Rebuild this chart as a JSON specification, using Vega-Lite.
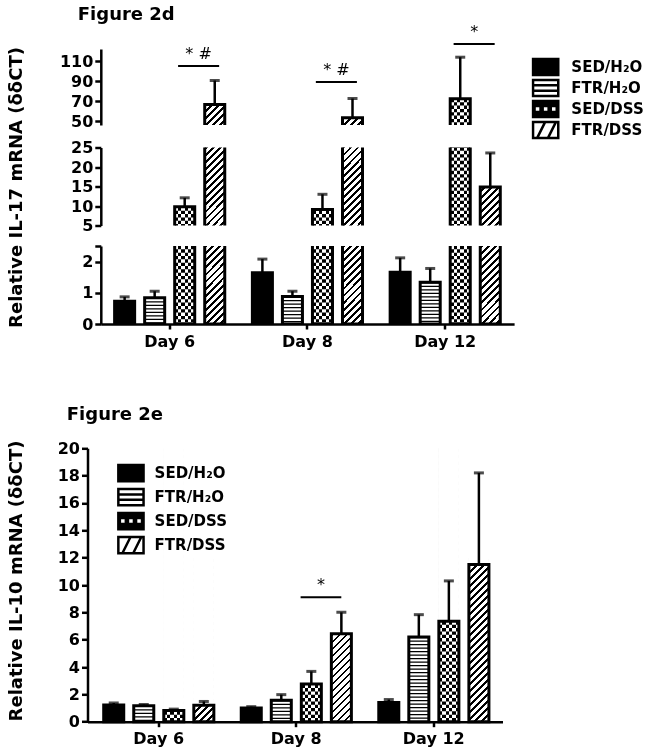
{
"$schema":"https://vega.github.io/schema/vega-lite/v6.json",
"background":"white",
"padding":{"left":6.5,"top":5,"right":5,"bottom":5},
"datasets":{
"il17":[
{"day":"Day 6","group":"SED/H₂O","mean":0.73,"upper":0.87},
{"day":"Day 6","group":"FTR/H₂O","mean":0.84,"upper":1.05},
{"day":"Day 6","group":"SED/DSS","mean":9.8,"upper":12.1},
{"day":"Day 6","group":"FTR/DSS","mean":66.5,"upper":90.5},
{"day":"Day 8","group":"SED/H₂O","mean":1.64,"upper":2.08},
{"day":"Day 8","group":"FTR/H₂O","mean":0.88,"upper":1.05},
{"day":"Day 8","group":"SED/DSS","mean":9.1,"upper":13.0},
{"day":"Day 8","group":"FTR/DSS","mean":53.2,"upper":72.5},
{"day":"Day 12","group":"SED/H₂O","mean":1.66,"upper":2.12},
{"day":"Day 12","group":"FTR/H₂O","mean":1.34,"upper":1.78},
{"day":"Day 12","group":"SED/DSS","mean":72.2,"upper":113.8},
{"day":"Day 12","group":"FTR/DSS","mean":14.9,"upper":23.6}
],
"il10":[
{"day":"Day 6","group":"SED/H₂O","mean":1.22,"upper":1.37},
{"day":"Day 6","group":"FTR/H₂O","mean":1.16,"upper":1.26},
{"day":"Day 6","group":"SED/DSS","mean":0.82,"upper":0.92},
{"day":"Day 6","group":"FTR/DSS","mean":1.2,"upper":1.48},
{"day":"Day 8","group":"SED/H₂O","mean":1.0,"upper":1.1},
{"day":"Day 8","group":"FTR/H₂O","mean":1.56,"upper":1.98},
{"day":"Day 8","group":"SED/DSS","mean":2.75,"upper":3.68},
{"day":"Day 8","group":"FTR/DSS","mean":6.44,"upper":8.0},
{"day":"Day 12","group":"SED/H₂O","mean":1.4,"upper":1.62},
{"day":"Day 12","group":"FTR/H₂O","mean":6.2,"upper":7.83},
{"day":"Day 12","group":"SED/DSS","mean":7.34,"upper":10.3},
{"day":"Day 12","group":"FTR/DSS","mean":11.5,"upper":18.2}
],
"sig17":[
{"day":"Day 6","level":105,"mark":"*  #"},
{"day":"Day 8","level":89,"mark":"*  #"},
{"day":"Day 12","level":127,"mark":"*"}
],
"sig10":[
{"day":"Day 8","level":9.1,"mark":"*"}
]
},
"resolve":{"scale":{"shape":"independent","fill":"independent"},"legend":{"shape":"independent","fill":"independent"}},
"concat":[
{
"title":{"text":"Figure 2d","dx":-9.7,"offset":0},
"columns":1,"align":"all","bounds":"flush","spacing":20.5,
"resolve":{"scale":{"shape":"independent","fill":"independent"},"legend":{"shape":"independent","fill":"independent"}},
"concat":[
{
"width":426.6,"height":76,
"layer":[
{"data":{"name":"il17"},"transform":[{"filter":"datum.group === 'SED/DSS' && datum.mean > 46"}],
"mark":{"type":"rule","stroke":"black","strokeWidth":20,"strokeDash":[3.33,3.33]},
"encoding":{
"x":{"field":"day","type":"nominal","sort":["Day 6","Day 8","Day 12"],"scale":{"paddingInner":0,"paddingOuter":0,"range":[13.3,426.6]},"axis":null},
"xOffset":{"field":"group","type":"nominal","sort":["SED/H₂O","FTR/H₂O","SED/DSS","FTR/DSS"],"scale":{"paddingInner":0.3333,"paddingOuter":0.46}},
"y":{"datum":122,"type":"quantitative","scale":{"domain":[46,122],"nice":false,"zero":false},"axis":{"values":[50,70,90,110],"title":null,"offset":-13.3,"labelOverlap":false}},
"y2":{"datum":46}}},
{"data":{"name":"il17"},"transform":[{"filter":"datum.group === 'SED/DSS' && datum.mean > 46"}],
"mark":{"type":"bar","strokeWidth":0,"blend":"difference","fill":{"gradient":"linear","x1":0,"y1":0,"x2":1,"y2":0,"stops":[{"offset":0,"color":"#fff"},{"offset":0.1667,"color":"#fff"},{"offset":0.1667,"color":"#000"},{"offset":0.3333,"color":"#000"},{"offset":0.3333,"color":"#fff"},{"offset":0.5,"color":"#fff"},{"offset":0.5,"color":"#000"},{"offset":0.6667,"color":"#000"},{"offset":0.6667,"color":"#fff"},{"offset":0.8333,"color":"#fff"},{"offset":0.8333,"color":"#000"},{"offset":1,"color":"#000"}]}},
"encoding":{
"x":{"field":"day","type":"nominal","sort":["Day 6","Day 8","Day 12"],"scale":{"paddingInner":0,"paddingOuter":0,"range":[13.3,426.6]},"axis":null},
"xOffset":{"field":"group","type":"nominal","sort":["SED/H₂O","FTR/H₂O","SED/DSS","FTR/DSS"],"scale":{"paddingInner":0.3333,"paddingOuter":0.46}},
"y":{"datum":122,"type":"quantitative","scale":{"domain":[46,122],"nice":false,"zero":false},"axis":{"values":[50,70,90,110],"title":null,"offset":-13.3,"labelOverlap":false}},
"y2":{"datum":46}}},
{"data":{"name":"il17"},"transform":[{"filter":"datum.group === 'FTR/DSS' && datum.mean > 46"}],
"mark":{"type":"bar","strokeWidth":0,"fill":{"gradient":"linear","x1":0,"y1":0,"x2":0.3097,"y2":1.1923,"stops":[{"offset":0,"color":"#000"},{"offset":0.0286,"color":"#000"},{"offset":0.0286,"color":"#fff"},{"offset":0.0714,"color":"#fff"},{"offset":0.0714,"color":"#000"},{"offset":0.1,"color":"#000"},{"offset":0.1,"color":"#fff"},{"offset":0.1429,"color":"#fff"},{"offset":0.1429,"color":"#000"},{"offset":0.1714,"color":"#000"},{"offset":0.1714,"color":"#fff"},{"offset":0.2143,"color":"#fff"},{"offset":0.2143,"color":"#000"},{"offset":0.2429,"color":"#000"},{"offset":0.2429,"color":"#fff"},{"offset":0.2857,"color":"#fff"},{"offset":0.2857,"color":"#000"},{"offset":0.3143,"color":"#000"},{"offset":0.3143,"color":"#fff"},{"offset":0.3571,"color":"#fff"},{"offset":0.3571,"color":"#000"},{"offset":0.3857,"color":"#000"},{"offset":0.3857,"color":"#fff"},{"offset":0.4286,"color":"#fff"},{"offset":0.4286,"color":"#000"},{"offset":0.4571,"color":"#000"},{"offset":0.4571,"color":"#fff"},{"offset":0.5,"color":"#fff"},{"offset":0.5,"color":"#000"},{"offset":0.5286,"color":"#000"},{"offset":0.5286,"color":"#fff"},{"offset":0.5714,"color":"#fff"},{"offset":0.5714,"color":"#000"},{"offset":0.6,"color":"#000"},{"offset":0.6,"color":"#fff"},{"offset":0.6429,"color":"#fff"},{"offset":0.6429,"color":"#000"},{"offset":0.6714,"color":"#000"},{"offset":0.6714,"color":"#fff"},{"offset":0.7143,"color":"#fff"},{"offset":0.7143,"color":"#000"},{"offset":0.7429,"color":"#000"},{"offset":0.7429,"color":"#fff"},{"offset":0.7857,"color":"#fff"},{"offset":0.7857,"color":"#000"},{"offset":0.8143,"color":"#000"},{"offset":0.8143,"color":"#fff"},{"offset":0.8571,"color":"#fff"},{"offset":0.8571,"color":"#000"},{"offset":0.8857,"color":"#000"},{"offset":0.8857,"color":"#fff"},{"offset":0.9286,"color":"#fff"},{"offset":0.9286,"color":"#000"},{"offset":0.9571,"color":"#000"},{"offset":0.9571,"color":"#fff"},{"offset":1,"color":"#fff"}]}},
"encoding":{
"x":{"field":"day","type":"nominal","sort":["Day 6","Day 8","Day 12"],"scale":{"paddingInner":0,"paddingOuter":0,"range":[13.3,426.6]},"axis":null},
"xOffset":{"field":"group","type":"nominal","sort":["SED/H₂O","FTR/H₂O","SED/DSS","FTR/DSS"],"scale":{"paddingInner":0.3333,"paddingOuter":0.46}},
"y":{"datum":122,"type":"quantitative","scale":{"domain":[46,122],"nice":false,"zero":false},"axis":{"values":[50,70,90,110],"title":null,"offset":-13.3,"labelOverlap":false}},
"y2":{"datum":46}}},
{"data":{"name":"il17"},"transform":[{"filter":"(datum.group === 'SED/DSS' || datum.group === 'FTR/DSS') && datum.mean > 46 && datum.mean < 122"}],
"mark":{"type":"bar","fill":"white","stroke":"white","strokeWidth":1.5},
"encoding":{
"x":{"field":"day","type":"nominal","sort":["Day 6","Day 8","Day 12"],"scale":{"paddingInner":0,"paddingOuter":0,"range":[13.3,426.6]},"axis":null},
"xOffset":{"field":"group","type":"nominal","sort":["SED/H₂O","FTR/H₂O","SED/DSS","FTR/DSS"],"scale":{"paddingInner":0.3333,"paddingOuter":0.46}},
"y":{"field":"mean","type":"quantitative","scale":{"domain":[46,122],"nice":false,"zero":false},"axis":{"values":[50,70,90,110],"title":null,"offset":-13.3,"labelOverlap":false}},
"y2":{"datum":122}}},
{"data":{"name":"il17"},"transform":[{"filter":"datum.mean > 46"}],
"mark":{"type":"bar","stroke":"black","strokeWidth":3,"clip":true},
"encoding":{
"x":{"field":"day","type":"nominal","sort":["Day 6","Day 8","Day 12"],"scale":{"paddingInner":0,"paddingOuter":0,"range":[13.3,426.6]},"axis":null},
"xOffset":{"field":"group","type":"nominal","sort":["SED/H₂O","FTR/H₂O","SED/DSS","FTR/DSS"],"scale":{"paddingInner":0.3333,"paddingOuter":0.46}},
"y":{"field":"mean","type":"quantitative","scale":{"domain":[46,122],"nice":false,"zero":false},"axis":{"values":[50,70,90,110],"title":null,"offset":-13.3,"labelOverlap":false}},
"y2":{"datum":0},
"fill":{"condition":{"test":"datum.group === 'SED/H₂O'","value":"black"},"value":"transparent"}}},
{"data":{"name":"il17"},"transform":[{"filter":"datum.mean > 46"}],
"mark":{"type":"rule","color":"black","strokeWidth":2.5},
"encoding":{
"x":{"field":"day","type":"nominal","sort":["Day 6","Day 8","Day 12"],"scale":{"paddingInner":0,"paddingOuter":0,"range":[13.3,426.6]},"axis":null},
"xOffset":{"field":"group","type":"nominal","sort":["SED/H₂O","FTR/H₂O","SED/DSS","FTR/DSS"],"scale":{"paddingInner":0.3333,"paddingOuter":0.46}},
"y":{"field":"mean","type":"quantitative","scale":{"domain":[46,122],"nice":false,"zero":false},"axis":{"values":[50,70,90,110],"title":null,"offset":-13.3,"labelOverlap":false}},
"y2":{"field":"upper"}}},
{"data":{"name":"il17"},"transform":[{"filter":"datum.mean > 46"}],
"mark":{"type":"tick","color":"black","size":10,"thickness":3},
"encoding":{
"x":{"field":"day","type":"nominal","sort":["Day 6","Day 8","Day 12"],"scale":{"paddingInner":0,"paddingOuter":0,"range":[13.3,426.6]},"axis":null},
"xOffset":{"field":"group","type":"nominal","sort":["SED/H₂O","FTR/H₂O","SED/DSS","FTR/DSS"],"scale":{"paddingInner":0.3333,"paddingOuter":0.46}},
"y":{"field":"upper","type":"quantitative","scale":{"domain":[46,122],"nice":false,"zero":false},"axis":{"values":[50,70,90,110],"title":null,"offset":-13.3,"labelOverlap":false}}}},
{"data":{"name":"sig17"},
"mark":{"type":"rule","color":"black","strokeWidth":2},
"encoding":{
"x":{"field":"day","type":"nominal","sort":["Day 6","Day 8","Day 12"],"scale":{"paddingInner":0,"paddingOuter":0,"range":[13.3,426.6]},"axis":null,"bandPosition":0.561},
"x2":{"field":"day","bandPosition":0.859},
"y":{"field":"level","type":"quantitative","scale":{"domain":[46,122],"nice":false,"zero":false},"axis":{"values":[50,70,90,110],"title":null,"offset":-13.3,"labelOverlap":false}}}},
{"data":{"name":"sig17"},
"mark":{"type":"text","font":"DejaVu Sans","fontSize":16,"dy":-7,"baseline":"alphabetic","align":"center","color":"black"},
"encoding":{
"x":{"field":"day","type":"nominal","sort":["Day 6","Day 8","Day 12"],"scale":{"paddingInner":0,"paddingOuter":0,"range":[13.3,426.6]},"axis":null,"bandPosition":0.71},
"y":{"field":"level","type":"quantitative","scale":{"domain":[46,122],"nice":false,"zero":false},"axis":{"values":[50,70,90,110],"title":null,"offset":-13.3,"labelOverlap":false}},
"text":{"field":"mark"}}},
{"data":{"name":"il17"},"transform":[{"filter":"datum.mean > 46"}],
"mark":{"type":"point","opacity":0,"size":144,"stroke":"black","strokeWidth":2.5,"filled":true},
"encoding":{
"x":{"field":"day","type":"nominal","sort":["Day 6","Day 8","Day 12"],"scale":{"paddingInner":0,"paddingOuter":0,"range":[13.3,426.6]},"axis":null},
"xOffset":{"field":"group","type":"nominal","sort":["SED/H₂O","FTR/H₂O","SED/DSS","FTR/DSS"],"scale":{"paddingInner":0.3333,"paddingOuter":0.46}},
"y":{"field":"mean","type":"quantitative","scale":{"domain":[46,122],"nice":false,"zero":false},"axis":{"values":[50,70,90,110],"title":null,"offset":-13.3,"labelOverlap":false}},
"shape":{"field":"group","type":"nominal","scale":{"domain":["SED/H₂O","FTR/H₂O","SED/DSS","FTR/DSS"],"range":["M-2.1,-1.35H2.1V1.35H-2.1Z","M-2.1,-1.35H2.1V1.35H-2.1Z M-2.1,-0.45H2.1 M-2.1,0.45H2.1","M-2.1,-1.35H2.1V1.35H-2.1Z M-1.85,-0.5V0.5H-0.85V-0.5Z M-0.5,-0.5V0.5H0.5V-0.5Z M0.85,-0.5V0.5H1.85V-0.5Z","M-2.1,-1.35H2.1V1.35H-2.1Z M-1.425,1.35L-0.075,-1.35 M0.375,1.35L1.725,-1.35"]},
"legend":{"title":null,"orient":"none","legendX":443.65,"legendY":7.65,"symbolOffset":7,"labelOffset":18.2,"rowPadding":0,"clipHeight":20.7,"symbolOpacity":1,"encode":{"symbols":{"update":{"opacity":{"value":1}}}}}},
"fill":{"field":"group","type":"nominal","scale":{"domain":["SED/H₂O","FTR/H₂O","SED/DSS","FTR/DSS"],"range":["black","white","black","white"]},
"legend":{"title":null,"orient":"none","legendX":443.65,"legendY":7.65,"symbolOffset":7,"labelOffset":18.2,"rowPadding":0,"clipHeight":20.7,"symbolOpacity":1,"encode":{"symbols":{"update":{"opacity":{"value":1}}}}}}}}
]
},
{
"width":426.6,"height":78,
"layer":[
{"data":{"name":"il17"},"transform":[{"filter":"datum.group === 'SED/DSS' && datum.mean > 5"}],
"mark":{"type":"rule","stroke":"black","strokeWidth":20,"strokeDash":[3.33,3.33]},
"encoding":{
"x":{"field":"day","type":"nominal","sort":["Day 6","Day 8","Day 12"],"scale":{"paddingInner":0,"paddingOuter":0,"range":[13.3,426.6]},"axis":null},
"xOffset":{"field":"group","type":"nominal","sort":["SED/H₂O","FTR/H₂O","SED/DSS","FTR/DSS"],"scale":{"paddingInner":0.3333,"paddingOuter":0.46}},
"y":{"datum":25,"type":"quantitative","scale":{"domain":[5,25],"nice":false,"zero":false},"axis":{"values":[5,10,15,20,25],"offset":-13.3,"labelOverlap":false,"title":"Relative IL-17 mRNA (δδCT)","titleX":-84.5,"titleY":39.5,"titleBaseline":"middle","titleAngle":270,"titleAlign":"center"}},
"y2":{"datum":5}}},
{"data":{"name":"il17"},"transform":[{"filter":"datum.group === 'SED/DSS' && datum.mean > 5"}],
"mark":{"type":"bar","strokeWidth":0,"blend":"difference","fill":{"gradient":"linear","x1":0,"y1":0,"x2":1,"y2":0,"stops":[{"offset":0,"color":"#fff"},{"offset":0.1667,"color":"#fff"},{"offset":0.1667,"color":"#000"},{"offset":0.3333,"color":"#000"},{"offset":0.3333,"color":"#fff"},{"offset":0.5,"color":"#fff"},{"offset":0.5,"color":"#000"},{"offset":0.6667,"color":"#000"},{"offset":0.6667,"color":"#fff"},{"offset":0.8333,"color":"#fff"},{"offset":0.8333,"color":"#000"},{"offset":1,"color":"#000"}]}},
"encoding":{
"x":{"field":"day","type":"nominal","sort":["Day 6","Day 8","Day 12"],"scale":{"paddingInner":0,"paddingOuter":0,"range":[13.3,426.6]},"axis":null},
"xOffset":{"field":"group","type":"nominal","sort":["SED/H₂O","FTR/H₂O","SED/DSS","FTR/DSS"],"scale":{"paddingInner":0.3333,"paddingOuter":0.46}},
"y":{"datum":25,"type":"quantitative","scale":{"domain":[5,25],"nice":false,"zero":false},"axis":{"values":[5,10,15,20,25],"offset":-13.3,"labelOverlap":false,"title":"Relative IL-17 mRNA (δδCT)","titleX":-84.5,"titleY":39.5,"titleBaseline":"middle","titleAngle":270,"titleAlign":"center"}},
"y2":{"datum":5}}},
{"data":{"name":"il17"},"transform":[{"filter":"datum.group === 'FTR/DSS' && datum.mean > 5"}],
"mark":{"type":"bar","strokeWidth":0,"fill":{"gradient":"linear","x1":0,"y1":0,"x2":0.3097,"y2":1.1923,"stops":[{"offset":0,"color":"#000"},{"offset":0.0286,"color":"#000"},{"offset":0.0286,"color":"#fff"},{"offset":0.0714,"color":"#fff"},{"offset":0.0714,"color":"#000"},{"offset":0.1,"color":"#000"},{"offset":0.1,"color":"#fff"},{"offset":0.1429,"color":"#fff"},{"offset":0.1429,"color":"#000"},{"offset":0.1714,"color":"#000"},{"offset":0.1714,"color":"#fff"},{"offset":0.2143,"color":"#fff"},{"offset":0.2143,"color":"#000"},{"offset":0.2429,"color":"#000"},{"offset":0.2429,"color":"#fff"},{"offset":0.2857,"color":"#fff"},{"offset":0.2857,"color":"#000"},{"offset":0.3143,"color":"#000"},{"offset":0.3143,"color":"#fff"},{"offset":0.3571,"color":"#fff"},{"offset":0.3571,"color":"#000"},{"offset":0.3857,"color":"#000"},{"offset":0.3857,"color":"#fff"},{"offset":0.4286,"color":"#fff"},{"offset":0.4286,"color":"#000"},{"offset":0.4571,"color":"#000"},{"offset":0.4571,"color":"#fff"},{"offset":0.5,"color":"#fff"},{"offset":0.5,"color":"#000"},{"offset":0.5286,"color":"#000"},{"offset":0.5286,"color":"#fff"},{"offset":0.5714,"color":"#fff"},{"offset":0.5714,"color":"#000"},{"offset":0.6,"color":"#000"},{"offset":0.6,"color":"#fff"},{"offset":0.6429,"color":"#fff"},{"offset":0.6429,"color":"#000"},{"offset":0.6714,"color":"#000"},{"offset":0.6714,"color":"#fff"},{"offset":0.7143,"color":"#fff"},{"offset":0.7143,"color":"#000"},{"offset":0.7429,"color":"#000"},{"offset":0.7429,"color":"#fff"},{"offset":0.7857,"color":"#fff"},{"offset":0.7857,"color":"#000"},{"offset":0.8143,"color":"#000"},{"offset":0.8143,"color":"#fff"},{"offset":0.8571,"color":"#fff"},{"offset":0.8571,"color":"#000"},{"offset":0.8857,"color":"#000"},{"offset":0.8857,"color":"#fff"},{"offset":0.9286,"color":"#fff"},{"offset":0.9286,"color":"#000"},{"offset":0.9571,"color":"#000"},{"offset":0.9571,"color":"#fff"},{"offset":1,"color":"#fff"}]}},
"encoding":{
"x":{"field":"day","type":"nominal","sort":["Day 6","Day 8","Day 12"],"scale":{"paddingInner":0,"paddingOuter":0,"range":[13.3,426.6]},"axis":null},
"xOffset":{"field":"group","type":"nominal","sort":["SED/H₂O","FTR/H₂O","SED/DSS","FTR/DSS"],"scale":{"paddingInner":0.3333,"paddingOuter":0.46}},
"y":{"datum":25,"type":"quantitative","scale":{"domain":[5,25],"nice":false,"zero":false},"axis":{"values":[5,10,15,20,25],"offset":-13.3,"labelOverlap":false,"title":"Relative IL-17 mRNA (δδCT)","titleX":-84.5,"titleY":39.5,"titleBaseline":"middle","titleAngle":270,"titleAlign":"center"}},
"y2":{"datum":5}}},
{"data":{"name":"il17"},"transform":[{"filter":"(datum.group === 'SED/DSS' || datum.group === 'FTR/DSS') && datum.mean > 5 && datum.mean < 25"}],
"mark":{"type":"bar","fill":"white","stroke":"white","strokeWidth":1.5},
"encoding":{
"x":{"field":"day","type":"nominal","sort":["Day 6","Day 8","Day 12"],"scale":{"paddingInner":0,"paddingOuter":0,"range":[13.3,426.6]},"axis":null},
"xOffset":{"field":"group","type":"nominal","sort":["SED/H₂O","FTR/H₂O","SED/DSS","FTR/DSS"],"scale":{"paddingInner":0.3333,"paddingOuter":0.46}},
"y":{"field":"mean","type":"quantitative","scale":{"domain":[5,25],"nice":false,"zero":false},"axis":{"values":[5,10,15,20,25],"offset":-13.3,"labelOverlap":false,"title":"Relative IL-17 mRNA (δδCT)","titleX":-84.5,"titleY":39.5,"titleBaseline":"middle","titleAngle":270,"titleAlign":"center"}},
"y2":{"datum":25}}},
{"data":{"name":"il17"},"transform":[{"filter":"datum.mean > 5"}],
"mark":{"type":"bar","stroke":"black","strokeWidth":3,"clip":true},
"encoding":{
"x":{"field":"day","type":"nominal","sort":["Day 6","Day 8","Day 12"],"scale":{"paddingInner":0,"paddingOuter":0,"range":[13.3,426.6]},"axis":null},
"xOffset":{"field":"group","type":"nominal","sort":["SED/H₂O","FTR/H₂O","SED/DSS","FTR/DSS"],"scale":{"paddingInner":0.3333,"paddingOuter":0.46}},
"y":{"field":"mean","type":"quantitative","scale":{"domain":[5,25],"nice":false,"zero":false},"axis":{"values":[5,10,15,20,25],"offset":-13.3,"labelOverlap":false,"title":"Relative IL-17 mRNA (δδCT)","titleX":-84.5,"titleY":39.5,"titleBaseline":"middle","titleAngle":270,"titleAlign":"center"}},
"y2":{"datum":0},
"fill":{"condition":{"test":"datum.group === 'SED/H₂O'","value":"black"},"value":"transparent"}}},
{"data":{"name":"il17"},"transform":[{"filter":"datum.mean > 5 && datum.mean <= 25"}],
"mark":{"type":"rule","color":"black","strokeWidth":2.5},
"encoding":{
"x":{"field":"day","type":"nominal","sort":["Day 6","Day 8","Day 12"],"scale":{"paddingInner":0,"paddingOuter":0,"range":[13.3,426.6]},"axis":null},
"xOffset":{"field":"group","type":"nominal","sort":["SED/H₂O","FTR/H₂O","SED/DSS","FTR/DSS"],"scale":{"paddingInner":0.3333,"paddingOuter":0.46}},
"y":{"field":"mean","type":"quantitative","scale":{"domain":[5,25],"nice":false,"zero":false},"axis":{"values":[5,10,15,20,25],"offset":-13.3,"labelOverlap":false,"title":"Relative IL-17 mRNA (δδCT)","titleX":-84.5,"titleY":39.5,"titleBaseline":"middle","titleAngle":270,"titleAlign":"center"}},
"y2":{"field":"upper"}}},
{"data":{"name":"il17"},"transform":[{"filter":"datum.mean > 5 && datum.mean <= 25"}],
"mark":{"type":"tick","color":"black","size":10,"thickness":3},
"encoding":{
"x":{"field":"day","type":"nominal","sort":["Day 6","Day 8","Day 12"],"scale":{"paddingInner":0,"paddingOuter":0,"range":[13.3,426.6]},"axis":null},
"xOffset":{"field":"group","type":"nominal","sort":["SED/H₂O","FTR/H₂O","SED/DSS","FTR/DSS"],"scale":{"paddingInner":0.3333,"paddingOuter":0.46}},
"y":{"field":"upper","type":"quantitative","scale":{"domain":[5,25],"nice":false,"zero":false},"axis":{"values":[5,10,15,20,25],"offset":-13.3,"labelOverlap":false,"title":"Relative IL-17 mRNA (δδCT)","titleX":-84.5,"titleY":39.5,"titleBaseline":"middle","titleAngle":270,"titleAlign":"center"}}}}
]
},
{
"width":426.6,"height":78,
"layer":[
{"data":{"name":"il17"},"transform":[{"filter":"datum.group === 'FTR/H₂O'"}],
"mark":{"type":"rule","stroke":"black","strokeWidth":20,"strokeDash":[1.2,2.3],"clip":true},
"encoding":{
"x":{"field":"day","type":"nominal","sort":["Day 6","Day 8","Day 12"],"scale":{"paddingInner":0,"paddingOuter":0,"range":[13.3,426.6]},"axis":{"title":null}},
"xOffset":{"field":"group","type":"nominal","sort":["SED/H₂O","FTR/H₂O","SED/DSS","FTR/DSS"],"scale":{"paddingInner":0.3333,"paddingOuter":0.46}},
"y":{"field":"mean","type":"quantitative","scale":{"domain":[0,2.5],"nice":false,"zero":false},"axis":{"values":[0,1,2,2.5],"offset":-13.3,"labelOverlap":false,"labelExpr":"datum.value === 2.5 ? '' : '' + datum.value","title":null}},
"y2":{"datum":0}}},
{"data":{"name":"il17"},"transform":[{"filter":"datum.group === 'SED/DSS'"}],
"mark":{"type":"rule","stroke":"black","strokeWidth":20,"strokeDash":[3.33,3.33]},
"encoding":{
"x":{"field":"day","type":"nominal","sort":["Day 6","Day 8","Day 12"],"scale":{"paddingInner":0,"paddingOuter":0,"range":[13.3,426.6]},"axis":{"title":null}},
"xOffset":{"field":"group","type":"nominal","sort":["SED/H₂O","FTR/H₂O","SED/DSS","FTR/DSS"],"scale":{"paddingInner":0.3333,"paddingOuter":0.46}},
"y":{"datum":2.5,"type":"quantitative","scale":{"domain":[0,2.5],"nice":false,"zero":false},"axis":{"values":[0,1,2,2.5],"offset":-13.3,"labelOverlap":false,"labelExpr":"datum.value === 2.5 ? '' : '' + datum.value","title":null}},
"y2":{"datum":0}}},
{"data":{"name":"il17"},"transform":[{"filter":"datum.group === 'SED/DSS'"}],
"mark":{"type":"bar","strokeWidth":0,"blend":"difference","fill":{"gradient":"linear","x1":0,"y1":0,"x2":1,"y2":0,"stops":[{"offset":0,"color":"#fff"},{"offset":0.1667,"color":"#fff"},{"offset":0.1667,"color":"#000"},{"offset":0.3333,"color":"#000"},{"offset":0.3333,"color":"#fff"},{"offset":0.5,"color":"#fff"},{"offset":0.5,"color":"#000"},{"offset":0.6667,"color":"#000"},{"offset":0.6667,"color":"#fff"},{"offset":0.8333,"color":"#fff"},{"offset":0.8333,"color":"#000"},{"offset":1,"color":"#000"}]}},
"encoding":{
"x":{"field":"day","type":"nominal","sort":["Day 6","Day 8","Day 12"],"scale":{"paddingInner":0,"paddingOuter":0,"range":[13.3,426.6]},"axis":{"title":null}},
"xOffset":{"field":"group","type":"nominal","sort":["SED/H₂O","FTR/H₂O","SED/DSS","FTR/DSS"],"scale":{"paddingInner":0.3333,"paddingOuter":0.46}},
"y":{"datum":2.5,"type":"quantitative","scale":{"domain":[0,2.5],"nice":false,"zero":false},"axis":{"values":[0,1,2,2.5],"offset":-13.3,"labelOverlap":false,"labelExpr":"datum.value === 2.5 ? '' : '' + datum.value","title":null}},
"y2":{"datum":0}}},
{"data":{"name":"il17"},"transform":[{"filter":"datum.group === 'FTR/DSS'"}],
"mark":{"type":"bar","strokeWidth":0,"fill":{"gradient":"linear","x1":0,"y1":0,"x2":0.3097,"y2":1.1923,"stops":[{"offset":0,"color":"#000"},{"offset":0.0286,"color":"#000"},{"offset":0.0286,"color":"#fff"},{"offset":0.0714,"color":"#fff"},{"offset":0.0714,"color":"#000"},{"offset":0.1,"color":"#000"},{"offset":0.1,"color":"#fff"},{"offset":0.1429,"color":"#fff"},{"offset":0.1429,"color":"#000"},{"offset":0.1714,"color":"#000"},{"offset":0.1714,"color":"#fff"},{"offset":0.2143,"color":"#fff"},{"offset":0.2143,"color":"#000"},{"offset":0.2429,"color":"#000"},{"offset":0.2429,"color":"#fff"},{"offset":0.2857,"color":"#fff"},{"offset":0.2857,"color":"#000"},{"offset":0.3143,"color":"#000"},{"offset":0.3143,"color":"#fff"},{"offset":0.3571,"color":"#fff"},{"offset":0.3571,"color":"#000"},{"offset":0.3857,"color":"#000"},{"offset":0.3857,"color":"#fff"},{"offset":0.4286,"color":"#fff"},{"offset":0.4286,"color":"#000"},{"offset":0.4571,"color":"#000"},{"offset":0.4571,"color":"#fff"},{"offset":0.5,"color":"#fff"},{"offset":0.5,"color":"#000"},{"offset":0.5286,"color":"#000"},{"offset":0.5286,"color":"#fff"},{"offset":0.5714,"color":"#fff"},{"offset":0.5714,"color":"#000"},{"offset":0.6,"color":"#000"},{"offset":0.6,"color":"#fff"},{"offset":0.6429,"color":"#fff"},{"offset":0.6429,"color":"#000"},{"offset":0.6714,"color":"#000"},{"offset":0.6714,"color":"#fff"},{"offset":0.7143,"color":"#fff"},{"offset":0.7143,"color":"#000"},{"offset":0.7429,"color":"#000"},{"offset":0.7429,"color":"#fff"},{"offset":0.7857,"color":"#fff"},{"offset":0.7857,"color":"#000"},{"offset":0.8143,"color":"#000"},{"offset":0.8143,"color":"#fff"},{"offset":0.8571,"color":"#fff"},{"offset":0.8571,"color":"#000"},{"offset":0.8857,"color":"#000"},{"offset":0.8857,"color":"#fff"},{"offset":0.9286,"color":"#fff"},{"offset":0.9286,"color":"#000"},{"offset":0.9571,"color":"#000"},{"offset":0.9571,"color":"#fff"},{"offset":1,"color":"#fff"}]}},
"encoding":{
"x":{"field":"day","type":"nominal","sort":["Day 6","Day 8","Day 12"],"scale":{"paddingInner":0,"paddingOuter":0,"range":[13.3,426.6]},"axis":{"title":null}},
"xOffset":{"field":"group","type":"nominal","sort":["SED/H₂O","FTR/H₂O","SED/DSS","FTR/DSS"],"scale":{"paddingInner":0.3333,"paddingOuter":0.46}},
"y":{"datum":2.5,"type":"quantitative","scale":{"domain":[0,2.5],"nice":false,"zero":false},"axis":{"values":[0,1,2,2.5],"offset":-13.3,"labelOverlap":false,"labelExpr":"datum.value === 2.5 ? '' : '' + datum.value","title":null}},
"y2":{"datum":0}}},
{"data":{"name":"il17"},
"mark":{"type":"bar","stroke":"black","strokeWidth":3,"clip":true},
"encoding":{
"x":{"field":"day","type":"nominal","sort":["Day 6","Day 8","Day 12"],"scale":{"paddingInner":0,"paddingOuter":0,"range":[13.3,426.6]},"axis":{"title":null}},
"xOffset":{"field":"group","type":"nominal","sort":["SED/H₂O","FTR/H₂O","SED/DSS","FTR/DSS"],"scale":{"paddingInner":0.3333,"paddingOuter":0.46}},
"y":{"field":"mean","type":"quantitative","scale":{"domain":[0,2.5],"nice":false,"zero":false},"axis":{"values":[0,1,2,2.5],"offset":-13.3,"labelOverlap":false,"labelExpr":"datum.value === 2.5 ? '' : '' + datum.value","title":null}},
"y2":{"datum":0},
"fill":{"condition":{"test":"datum.group === 'SED/H₂O'","value":"black"},"value":"transparent"}}},
{"data":{"name":"il17"},"transform":[{"filter":"datum.mean <= 2.5"}],
"mark":{"type":"rule","color":"black","strokeWidth":2.5},
"encoding":{
"x":{"field":"day","type":"nominal","sort":["Day 6","Day 8","Day 12"],"scale":{"paddingInner":0,"paddingOuter":0,"range":[13.3,426.6]},"axis":{"title":null}},
"xOffset":{"field":"group","type":"nominal","sort":["SED/H₂O","FTR/H₂O","SED/DSS","FTR/DSS"],"scale":{"paddingInner":0.3333,"paddingOuter":0.46}},
"y":{"field":"mean","type":"quantitative","scale":{"domain":[0,2.5],"nice":false,"zero":false},"axis":{"values":[0,1,2,2.5],"offset":-13.3,"labelOverlap":false,"labelExpr":"datum.value === 2.5 ? '' : '' + datum.value","title":null}},
"y2":{"field":"upper"}}},
{"data":{"name":"il17"},"transform":[{"filter":"datum.mean <= 2.5"}],
"mark":{"type":"tick","color":"black","size":10,"thickness":3},
"encoding":{
"x":{"field":"day","type":"nominal","sort":["Day 6","Day 8","Day 12"],"scale":{"paddingInner":0,"paddingOuter":0,"range":[13.3,426.6]},"axis":{"title":null}},
"xOffset":{"field":"group","type":"nominal","sort":["SED/H₂O","FTR/H₂O","SED/DSS","FTR/DSS"],"scale":{"paddingInner":0.3333,"paddingOuter":0.46}},
"y":{"field":"upper","type":"quantitative","scale":{"domain":[0,2.5],"nice":false,"zero":false},"axis":{"values":[0,1,2,2.5],"offset":-13.3,"labelOverlap":false,"labelExpr":"datum.value === 2.5 ? '' : '' + datum.value","title":null}}}}
]
}
]
},
{
"title":{"text":"Figure 2e","dx":-20.7,"offset":14},
"width":415,"height":273.4,
"layer":[
{"data":{"name":"il10"},"transform":[{"filter":"datum.group === 'FTR/H₂O'"}],
"mark":{"type":"rule","stroke":"black","strokeWidth":20,"strokeDash":[1.2,2.3]},
"encoding":{
"x":{"field":"day","type":"nominal","sort":["Day 6","Day 8","Day 12"],"scale":{"paddingInner":0,"paddingOuter":0.0087,"align":1},"axis":{"title":null}},
"xOffset":{"field":"group","type":"nominal","sort":["SED/H₂O","FTR/H₂O","SED/DSS","FTR/DSS"],"scale":{"paddingInner":0.3333,"paddingOuter":0.46}},
"y":{"field":"mean","type":"quantitative","scale":{"domain":[0,20],"nice":false,"zero":false},"axis":{"values":[0,2,4,6,8,10,12,14,16,18,20],"labelOverlap":false,"title":"Relative IL-10 mRNA (δδCT)","titleX":-71.2,"titleY":132.2,"titleBaseline":"middle","titleAngle":270,"titleAlign":"center"}},
"y2":{"datum":0}}},
{"data":{"name":"il10"},"transform":[{"filter":"datum.group === 'SED/DSS'"}],
"mark":{"type":"rule","stroke":"black","strokeWidth":20,"strokeDash":[3.33,3.33]},
"encoding":{
"x":{"field":"day","type":"nominal","sort":["Day 6","Day 8","Day 12"],"scale":{"paddingInner":0,"paddingOuter":0.0087,"align":1},"axis":{"title":null}},
"xOffset":{"field":"group","type":"nominal","sort":["SED/H₂O","FTR/H₂O","SED/DSS","FTR/DSS"],"scale":{"paddingInner":0.3333,"paddingOuter":0.46}},
"y":{"datum":20,"type":"quantitative","scale":{"domain":[0,20],"nice":false,"zero":false},"axis":{"values":[0,2,4,6,8,10,12,14,16,18,20],"labelOverlap":false,"title":"Relative IL-10 mRNA (δδCT)","titleX":-71.2,"titleY":132.2,"titleBaseline":"middle","titleAngle":270,"titleAlign":"center"}},
"y2":{"datum":0}}},
{"data":{"name":"il10"},"transform":[{"filter":"datum.group === 'SED/DSS'"}],
"mark":{"type":"bar","strokeWidth":0,"blend":"difference","fill":{"gradient":"linear","x1":0,"y1":0,"x2":1,"y2":0,"stops":[{"offset":0,"color":"#fff"},{"offset":0.1667,"color":"#fff"},{"offset":0.1667,"color":"#000"},{"offset":0.3333,"color":"#000"},{"offset":0.3333,"color":"#fff"},{"offset":0.5,"color":"#fff"},{"offset":0.5,"color":"#000"},{"offset":0.6667,"color":"#000"},{"offset":0.6667,"color":"#fff"},{"offset":0.8333,"color":"#fff"},{"offset":0.8333,"color":"#000"},{"offset":1,"color":"#000"}]}},
"encoding":{
"x":{"field":"day","type":"nominal","sort":["Day 6","Day 8","Day 12"],"scale":{"paddingInner":0,"paddingOuter":0.0087,"align":1},"axis":{"title":null}},
"xOffset":{"field":"group","type":"nominal","sort":["SED/H₂O","FTR/H₂O","SED/DSS","FTR/DSS"],"scale":{"paddingInner":0.3333,"paddingOuter":0.46}},
"y":{"datum":20,"type":"quantitative","scale":{"domain":[0,20],"nice":false,"zero":false},"axis":{"values":[0,2,4,6,8,10,12,14,16,18,20],"labelOverlap":false,"title":"Relative IL-10 mRNA (δδCT)","titleX":-71.2,"titleY":132.2,"titleBaseline":"middle","titleAngle":270,"titleAlign":"center"}},
"y2":{"datum":0}}},
{"data":{"name":"il10"},"transform":[{"filter":"datum.group === 'FTR/DSS'"}],
"mark":{"type":"bar","strokeWidth":0,"fill":{"gradient":"linear","x1":0,"y1":0,"x2":0.1385,"y2":1.1356,"stops":[{"offset":0,"color":"#000"},{"offset":0.0148,"color":"#000"},{"offset":0.0148,"color":"#fff"},{"offset":0.037,"color":"#fff"},{"offset":0.037,"color":"#000"},{"offset":0.0519,"color":"#000"},{"offset":0.0519,"color":"#fff"},{"offset":0.0741,"color":"#fff"},{"offset":0.0741,"color":"#000"},{"offset":0.0889,"color":"#000"},{"offset":0.0889,"color":"#fff"},{"offset":0.1111,"color":"#fff"},{"offset":0.1111,"color":"#000"},{"offset":0.1259,"color":"#000"},{"offset":0.1259,"color":"#fff"},{"offset":0.1481,"color":"#fff"},{"offset":0.1481,"color":"#000"},{"offset":0.163,"color":"#000"},{"offset":0.163,"color":"#fff"},{"offset":0.1852,"color":"#fff"},{"offset":0.1852,"color":"#000"},{"offset":0.2,"color":"#000"},{"offset":0.2,"color":"#fff"},{"offset":0.2222,"color":"#fff"},{"offset":0.2222,"color":"#000"},{"offset":0.237,"color":"#000"},{"offset":0.237,"color":"#fff"},{"offset":0.2593,"color":"#fff"},{"offset":0.2593,"color":"#000"},{"offset":0.2741,"color":"#000"},{"offset":0.2741,"color":"#fff"},{"offset":0.2963,"color":"#fff"},{"offset":0.2963,"color":"#000"},{"offset":0.3111,"color":"#000"},{"offset":0.3111,"color":"#fff"},{"offset":0.3333,"color":"#fff"},{"offset":0.3333,"color":"#000"},{"offset":0.3481,"color":"#000"},{"offset":0.3481,"color":"#fff"},{"offset":0.3704,"color":"#fff"},{"offset":0.3704,"color":"#000"},{"offset":0.3852,"color":"#000"},{"offset":0.3852,"color":"#fff"},{"offset":0.4074,"color":"#fff"},{"offset":0.4074,"color":"#000"},{"offset":0.4222,"color":"#000"},{"offset":0.4222,"color":"#fff"},{"offset":0.4444,"color":"#fff"},{"offset":0.4444,"color":"#000"},{"offset":0.4593,"color":"#000"},{"offset":0.4593,"color":"#fff"},{"offset":0.4815,"color":"#fff"},{"offset":0.4815,"color":"#000"},{"offset":0.4963,"color":"#000"},{"offset":0.4963,"color":"#fff"},{"offset":0.5185,"color":"#fff"},{"offset":0.5185,"color":"#000"},{"offset":0.5333,"color":"#000"},{"offset":0.5333,"color":"#fff"},{"offset":0.5556,"color":"#fff"},{"offset":0.5556,"color":"#000"},{"offset":0.5704,"color":"#000"},{"offset":0.5704,"color":"#fff"},{"offset":0.5926,"color":"#fff"},{"offset":0.5926,"color":"#000"},{"offset":0.6074,"color":"#000"},{"offset":0.6074,"color":"#fff"},{"offset":0.6296,"color":"#fff"},{"offset":0.6296,"color":"#000"},{"offset":0.6444,"color":"#000"},{"offset":0.6444,"color":"#fff"},{"offset":0.6667,"color":"#fff"},{"offset":0.6667,"color":"#000"},{"offset":0.6815,"color":"#000"},{"offset":0.6815,"color":"#fff"},{"offset":0.7037,"color":"#fff"},{"offset":0.7037,"color":"#000"},{"offset":0.7185,"color":"#000"},{"offset":0.7185,"color":"#fff"},{"offset":0.7407,"color":"#fff"},{"offset":0.7407,"color":"#000"},{"offset":0.7556,"color":"#000"},{"offset":0.7556,"color":"#fff"},{"offset":0.7778,"color":"#fff"},{"offset":0.7778,"color":"#000"},{"offset":0.7926,"color":"#000"},{"offset":0.7926,"color":"#fff"},{"offset":0.8148,"color":"#fff"},{"offset":0.8148,"color":"#000"},{"offset":0.8296,"color":"#000"},{"offset":0.8296,"color":"#fff"},{"offset":0.8519,"color":"#fff"},{"offset":0.8519,"color":"#000"},{"offset":0.8667,"color":"#000"},{"offset":0.8667,"color":"#fff"},{"offset":0.8889,"color":"#fff"},{"offset":0.8889,"color":"#000"},{"offset":0.9037,"color":"#000"},{"offset":0.9037,"color":"#fff"},{"offset":0.9259,"color":"#fff"},{"offset":0.9259,"color":"#000"},{"offset":0.9407,"color":"#000"},{"offset":0.9407,"color":"#fff"},{"offset":0.963,"color":"#fff"},{"offset":0.963,"color":"#000"},{"offset":0.9778,"color":"#000"},{"offset":0.9778,"color":"#fff"},{"offset":1,"color":"#fff"}]}},
"encoding":{
"x":{"field":"day","type":"nominal","sort":["Day 6","Day 8","Day 12"],"scale":{"paddingInner":0,"paddingOuter":0.0087,"align":1},"axis":{"title":null}},
"xOffset":{"field":"group","type":"nominal","sort":["SED/H₂O","FTR/H₂O","SED/DSS","FTR/DSS"],"scale":{"paddingInner":0.3333,"paddingOuter":0.46}},
"y":{"datum":12,"type":"quantitative","scale":{"domain":[0,20],"nice":false,"zero":false},"axis":{"values":[0,2,4,6,8,10,12,14,16,18,20],"labelOverlap":false,"title":"Relative IL-10 mRNA (δδCT)","titleX":-71.2,"titleY":132.2,"titleBaseline":"middle","titleAngle":270,"titleAlign":"center"}},
"y2":{"datum":0}}},
{"data":{"name":"il10"},"transform":[{"filter":"datum.group === 'SED/DSS' || datum.group === 'FTR/DSS'"}],
"mark":{"type":"bar","fill":"white","stroke":"white","strokeWidth":1.5},
"encoding":{
"x":{"field":"day","type":"nominal","sort":["Day 6","Day 8","Day 12"],"scale":{"paddingInner":0,"paddingOuter":0.0087,"align":1},"axis":{"title":null}},
"xOffset":{"field":"group","type":"nominal","sort":["SED/H₂O","FTR/H₂O","SED/DSS","FTR/DSS"],"scale":{"paddingInner":0.3333,"paddingOuter":0.46}},
"y":{"field":"mean","type":"quantitative","scale":{"domain":[0,20],"nice":false,"zero":false},"axis":{"values":[0,2,4,6,8,10,12,14,16,18,20],"labelOverlap":false,"title":"Relative IL-10 mRNA (δδCT)","titleX":-71.2,"titleY":132.2,"titleBaseline":"middle","titleAngle":270,"titleAlign":"center"}},
"y2":{"datum":20}}},
{"data":{"name":"il10"},
"mark":{"type":"bar","stroke":"black","strokeWidth":3},
"encoding":{
"x":{"field":"day","type":"nominal","sort":["Day 6","Day 8","Day 12"],"scale":{"paddingInner":0,"paddingOuter":0.0087,"align":1},"axis":{"title":null}},
"xOffset":{"field":"group","type":"nominal","sort":["SED/H₂O","FTR/H₂O","SED/DSS","FTR/DSS"],"scale":{"paddingInner":0.3333,"paddingOuter":0.46}},
"y":{"field":"mean","type":"quantitative","scale":{"domain":[0,20],"nice":false,"zero":false},"axis":{"values":[0,2,4,6,8,10,12,14,16,18,20],"labelOverlap":false,"title":"Relative IL-10 mRNA (δδCT)","titleX":-71.2,"titleY":132.2,"titleBaseline":"middle","titleAngle":270,"titleAlign":"center"}},
"y2":{"datum":0},
"fill":{"condition":{"test":"datum.group === 'SED/H₂O'","value":"black"},"value":"transparent"}}},
{"data":{"name":"il10"},
"mark":{"type":"rule","color":"black","strokeWidth":2.5},
"encoding":{
"x":{"field":"day","type":"nominal","sort":["Day 6","Day 8","Day 12"],"scale":{"paddingInner":0,"paddingOuter":0.0087,"align":1},"axis":{"title":null}},
"xOffset":{"field":"group","type":"nominal","sort":["SED/H₂O","FTR/H₂O","SED/DSS","FTR/DSS"],"scale":{"paddingInner":0.3333,"paddingOuter":0.46}},
"y":{"field":"mean","type":"quantitative","scale":{"domain":[0,20],"nice":false,"zero":false},"axis":{"values":[0,2,4,6,8,10,12,14,16,18,20],"labelOverlap":false,"title":"Relative IL-10 mRNA (δδCT)","titleX":-71.2,"titleY":132.2,"titleBaseline":"middle","titleAngle":270,"titleAlign":"center"}},
"y2":{"field":"upper"}}},
{"data":{"name":"il10"},
"mark":{"type":"tick","color":"black","size":10,"thickness":3},
"encoding":{
"x":{"field":"day","type":"nominal","sort":["Day 6","Day 8","Day 12"],"scale":{"paddingInner":0,"paddingOuter":0.0087,"align":1},"axis":{"title":null}},
"xOffset":{"field":"group","type":"nominal","sort":["SED/H₂O","FTR/H₂O","SED/DSS","FTR/DSS"],"scale":{"paddingInner":0.3333,"paddingOuter":0.46}},
"y":{"field":"upper","type":"quantitative","scale":{"domain":[0,20],"nice":false,"zero":false},"axis":{"values":[0,2,4,6,8,10,12,14,16,18,20],"labelOverlap":false,"title":"Relative IL-10 mRNA (δδCT)","titleX":-71.2,"titleY":132.2,"titleBaseline":"middle","titleAngle":270,"titleAlign":"center"}}}},
{"data":{"name":"sig10"},
"mark":{"type":"rule","color":"black","strokeWidth":2},
"encoding":{
"x":{"field":"day","type":"nominal","sort":["Day 6","Day 8","Day 12"],"scale":{"paddingInner":0,"paddingOuter":0.0087,"align":1},"axis":{"title":null},"bandPosition":0.532},
"x2":{"field":"day","bandPosition":0.828},
"y":{"field":"level","type":"quantitative","scale":{"domain":[0,20],"nice":false,"zero":false},"axis":{"values":[0,2,4,6,8,10,12,14,16,18,20],"labelOverlap":false,"title":"Relative IL-10 mRNA (δδCT)","titleX":-71.2,"titleY":132.2,"titleBaseline":"middle","titleAngle":270,"titleAlign":"center"}}}},
{"data":{"name":"sig10"},
"mark":{"type":"text","font":"DejaVu Sans","fontSize":16,"dy":-7,"baseline":"alphabetic","align":"center","color":"black"},
"encoding":{
"x":{"field":"day","type":"nominal","sort":["Day 6","Day 8","Day 12"],"scale":{"paddingInner":0,"paddingOuter":0.0087,"align":1},"axis":{"title":null},"bandPosition":0.68},
"y":{"field":"level","type":"quantitative","scale":{"domain":[0,20],"nice":false,"zero":false},"axis":{"values":[0,2,4,6,8,10,12,14,16,18,20],"labelOverlap":false,"title":"Relative IL-10 mRNA (δδCT)","titleX":-71.2,"titleY":132.2,"titleBaseline":"middle","titleAngle":270,"titleAlign":"center"}},
"text":{"field":"mark"}}},
{"data":{"name":"il10"},
"mark":{"type":"point","opacity":0,"size":144,"stroke":"black","strokeWidth":2.5,"filled":true},
"encoding":{
"x":{"field":"day","type":"nominal","sort":["Day 6","Day 8","Day 12"],"scale":{"paddingInner":0,"paddingOuter":0.0087,"align":1},"axis":{"title":null}},
"xOffset":{"field":"group","type":"nominal","sort":["SED/H₂O","FTR/H₂O","SED/DSS","FTR/DSS"],"scale":{"paddingInner":0.3333,"paddingOuter":0.46}},
"y":{"field":"mean","type":"quantitative","scale":{"domain":[0,20],"nice":false,"zero":false},"axis":{"values":[0,2,4,6,8,10,12,14,16,18,20],"labelOverlap":false,"title":"Relative IL-10 mRNA (δδCT)","titleX":-71.2,"titleY":132.2,"titleBaseline":"middle","titleAngle":270,"titleAlign":"center"}},
"shape":{"field":"group","type":"nominal","scale":{"domain":["SED/H₂O","FTR/H₂O","SED/DSS","FTR/DSS"],"range":["M-2.1,-1.35H2.1V1.35H-2.1Z","M-2.1,-1.35H2.1V1.35H-2.1Z M-2.1,-0.45H2.1 M-2.1,0.45H2.1","M-2.1,-1.35H2.1V1.35H-2.1Z M-1.85,-0.5V0.5H-0.85V-0.5Z M-0.5,-0.5V0.5H0.5V-0.5Z M0.85,-0.5V0.5H1.85V-0.5Z","M-2.1,-1.35H2.1V1.35H-2.1Z M-1.425,1.35L-0.075,-1.35 M0.375,1.35L1.725,-1.35"]},
"legend":{"title":null,"orient":"none","legendX":28.95,"legendY":12.95,"symbolOffset":7,"labelOffset":16.15,"rowPadding":0,"clipHeight":23.7,"symbolOpacity":1,"encode":{"symbols":{"update":{"opacity":{"value":1}}}}}},
"fill":{"field":"group","type":"nominal","scale":{"domain":["SED/H₂O","FTR/H₂O","SED/DSS","FTR/DSS"],"range":["black","white","black","white"]},
"legend":{"title":null,"orient":"none","legendX":28.95,"legendY":12.95,"symbolOffset":7,"labelOffset":16.15,"rowPadding":0,"clipHeight":23.7,"symbolOpacity":1,"encode":{"symbols":{"update":{"opacity":{"value":1}}}}}}}}
]
}
],
"columns":1,"align":"none","bounds":"full","spacing":57.3,
"config":{
"view":{"stroke":null},
"font":"DejaVu Sans",
"title":{"font":"DejaVu Sans","fontSize":18,"fontWeight":"bold","color":"black","anchor":"start","frame":"group"},
"axis":{"domainColor":"black","domainWidth":2.5,"tickColor":"black","tickWidth":2.5,"tickSize":6,"labelFont":"DejaVu Sans","labelFontWeight":"bold","labelFontSize":16,"labelColor":"black","labelPadding":2,"labelOverlap":false,"titleFont":"DejaVu Sans","titleFontWeight":"bold","titleFontSize":18,"titleColor":"black","grid":false},
"axisX":{"tickSize":5,"labelPadding":4,"labelAngle":0},
"legend":{"labelFont":"DejaVu Sans","labelFontWeight":"bold","labelFontSize":15,"labelColor":"black","symbolStrokeWidth":2.5,"symbolStrokeColor":"black","padding":0,"symbolSize":144}
}
}
